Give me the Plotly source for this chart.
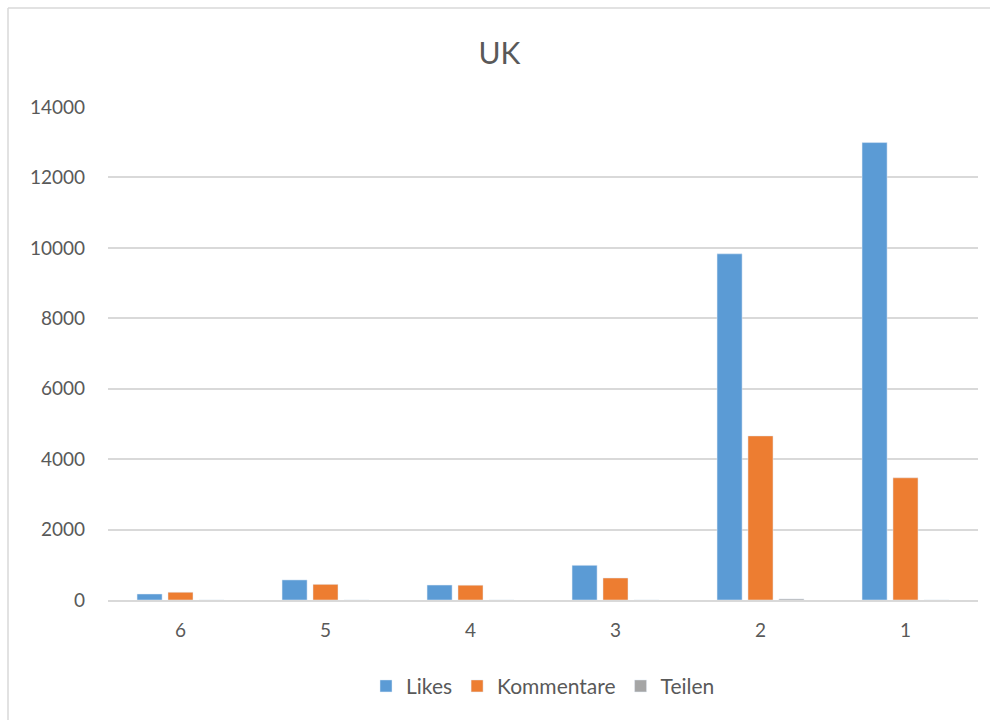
import plotly.graph_objects as go

categories = ["6", "5", "4", "3", "2", "1"]
likes = [170, 570, 425, 985, 9830, 12990]
kommentare = [220, 445, 420, 625, 4660, 3470]
teilen = [0, 0, 0, 0, 30, 0]

fig = go.Figure()
fig.add_bar(name="Likes", x=categories, y=likes, marker_color="#5B9BD5")
fig.add_bar(name="Kommentare", x=categories, y=kommentare, marker_color="#ED7D31")
fig.add_bar(name="Teilen", x=categories, y=teilen, marker_color="#A5A5A5")

fig.update_layout(
    width=999, height=720,
    paper_bgcolor="white", plot_bgcolor="white",
    font=dict(family="Lato, Carlito, Calibri, sans-serif", color="#595959", size=18),
    title=dict(text="UK", x=0.5, xanchor="center", y=0.926, yanchor="middle",
               font=dict(size=30, color="#595959")),
    margin=dict(l=108, r=21, t=107, b=120),
    barmode="group", bargap=0.36, bargroupgap=0.19,
    showlegend=True,
    legend=dict(orientation="h", x=0.5, xanchor="center", y=-0.175, yanchor="middle",
                font=dict(size=21, color="#595959"), itemwidth=30, traceorder="normal"),
    xaxis=dict(showgrid=False, showline=True, linecolor="#D9D9D9", linewidth=1.5,
               ticks="", ticklabelstandoff=12, tickfont=dict(size=19, color="#595959")),
    yaxis=dict(range=[0, 14000], dtick=2000, showgrid=True, gridcolor="#D9D9D9",
               gridwidth=1.5, zeroline=False, showline=False, ticks="",
               tickformat="d", ticklabelstandoff=22,
               tickfont=dict(size=19, color="#595959")),
    shapes=[
        dict(type="line", xref="paper", yref="paper", x0=-100/870, x1=-100/870,
             y0=-120/493, y1=1+99/493, line=dict(color="#D9D9D9", width=1.5)),
        dict(type="line", xref="paper", yref="paper", x0=-100/870, x1=1+12/870,
             y0=1+99/493, y1=1+99/493, line=dict(color="#D9D9D9", width=1.5)),
    ],
)

fig.write_html("out.html")
